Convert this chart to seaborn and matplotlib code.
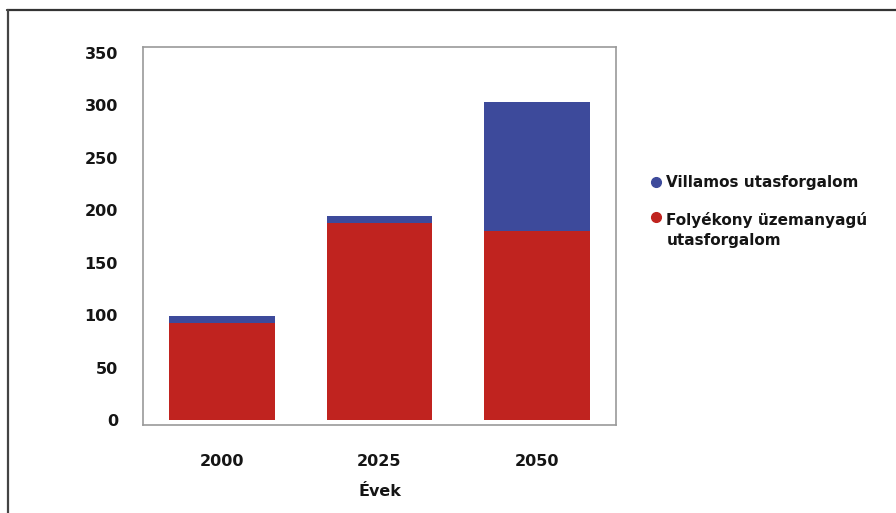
import matplotlib
matplotlib.use("Agg")
import matplotlib.pyplot as plt
from matplotlib.lines import Line2D
from matplotlib.legend_handler import HandlerLine2D
import seaborn as sns
import pandas as pd

years = ["2000", "2025", "2050"]
fluid = [93, 188, 180]        # Folyékony üzemanyagú utasforgalom
electric = [6, 7, 123]        # Villamos utasforgalom
yticks = [0, 50, 100, 150, 200, 250, 300, 350]
label_electric = "Villamos utasforgalom"
label_fluid = "Folyékony üzemanyagú\nutasforgalom"
xlabel = "Évek"

RED = "#c0231f"
BLUE = "#3d4a9b"
TXT = "#151515"

sns.set_theme(style="white")
plt.rcParams['font.family'] = ['DejaVu Sans']

df = pd.DataFrame({"year": years, "fluid": fluid, "electric": electric})
df["total"] = df["fluid"] + df["electric"]

fig = plt.figure(figsize=(8.96, 5.13), dpi=100)
ax = fig.add_axes([143/896, 88/513, (616-143)/896, (425-47)/513])

sns.barplot(data=df, x="year", y="total", color=BLUE, saturation=1, width=0.67,
            linewidth=0, ax=ax)
sns.barplot(data=df, x="year", y="fluid", color=RED, saturation=1, width=0.67,
            linewidth=0, ax=ax)

ax.set_xlim(-0.5, 2.5)
ax.set_ylim(-4.5, 355.5)
ax.set_yticks(yticks)
ax.set_yticklabels([str(v) for v in yticks], fontsize=11.5, fontweight="bold", color=TXT)
ax.tick_params(axis="both", length=0)
ax.tick_params(axis="y", pad=18)
ax.tick_params(axis="x", pad=21)
for lbl in ax.get_xticklabels():
    lbl.set_fontsize(11.5)
    lbl.set_fontweight("bold")
    lbl.set_color(TXT)
ax.set_xlabel(xlabel, fontsize=11.5, fontweight="bold", color=TXT, labelpad=11)
ax.set_ylabel("")
for s in ax.spines.values():
    s.set_visible(True)
    s.set_color("#9a9a9a")
    s.set_linewidth(1.2)


class TopAlignedHandler(HandlerLine2D):
    def __init__(self, shift=0.0, **kw):
        super().__init__(**kw)
        self.shift = shift

    def create_artists(self, legend, orig_handle, xdescent, ydescent, width, height,
                       fontsize, trans):
        artists = super().create_artists(legend, orig_handle, xdescent, ydescent,
                                         width, height, fontsize, trans)
        for a in artists:
            a.set_ydata([y + self.shift * fontsize for y in a.get_ydata()])
        return artists


h_el = Line2D([], [], marker="o", linestyle="none", color=BLUE, markersize=7)
h_fl = Line2D([], [], marker="o", linestyle="none", color=RED, markersize=7)
leg = fig.legend([h_el, h_fl], [label_electric, label_fluid], loc="upper left",
                 bbox_to_anchor=(648/896, 1 - 175/513), frameon=False,
                 prop={"size": 11, "weight": "bold"}, handletextpad=0.2,
                 handlelength=1.0, labelspacing=1.45, borderaxespad=0, borderpad=0,
                 handler_map={h_fl: TopAlignedHandler(shift=0.92)})
for t in leg.get_texts():
    t.set_color(TXT)
    t.set_linespacing(1.4)

# outer frame lines
fig.add_artist(Line2D([7/896, 1.0], [1 - 10/513, 1 - 10/513], transform=fig.transFigure,
                      color="#333333", linewidth=1.6))
fig.add_artist(Line2D([8/896, 8/896], [0, 1 - 10/513], transform=fig.transFigure,
                      color="#444444", linewidth=1.6))

fig.savefig("out.png", dpi=100)
